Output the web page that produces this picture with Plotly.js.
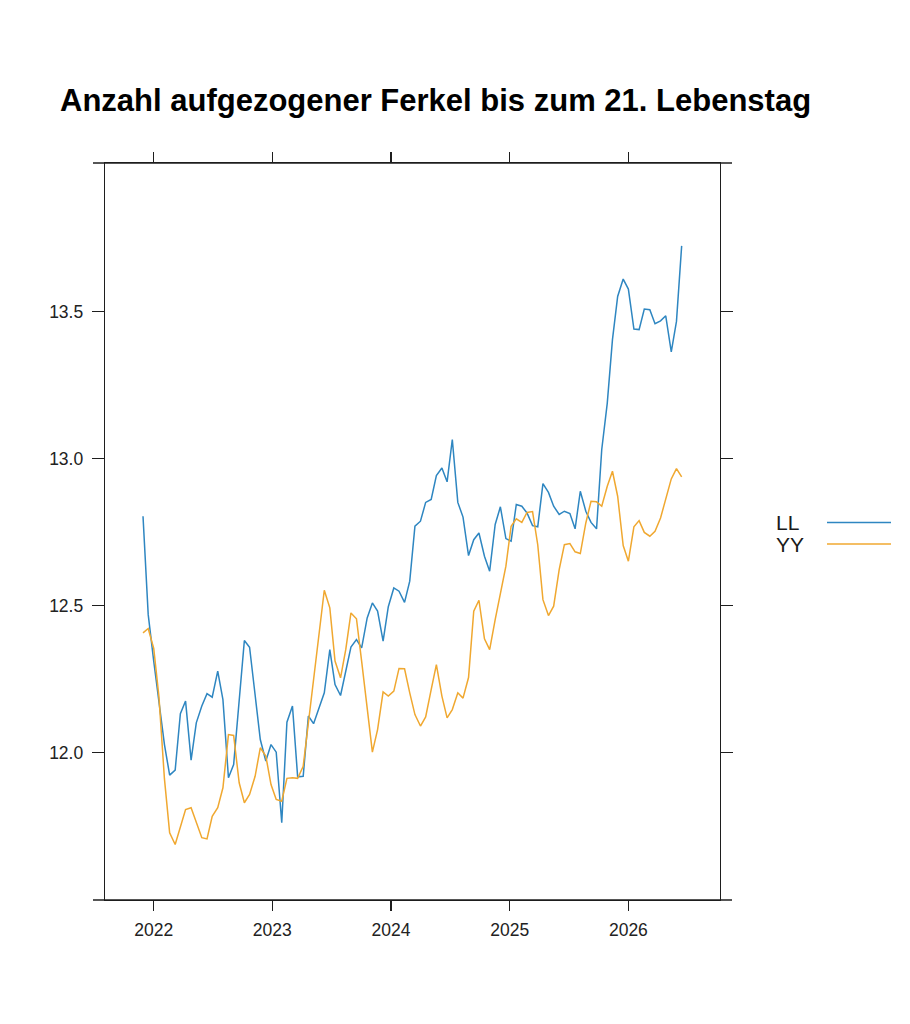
<!DOCTYPE html>
<html>
<head>
<meta charset="utf-8">
<script src="https://cdn.plot.ly/plotly-3.0.1.min.js"></script>
<style>
  html, body { margin: 0; padding: 0; background: #ffffff; }
  #chart { width: 910px; height: 1024px; }
</style>
</head>
<body>
<div id="chart"></div>
<script>
// ---- Data ----
const chartTitle = "Anzahl aufgezogener Ferkel bis zum 21. Lebenstag";
const seriesNames = ["LL", "YY"];
const seriesColors = ["#2e86c1", "#f0a830"];

const dates = [
  "2021-11-29","2021-12-15","2022-01-01","2022-01-17","2022-02-03","2022-02-19","2022-03-08","2022-03-24",
  "2022-04-09","2022-04-26","2022-05-12","2022-05-29","2022-06-14","2022-06-30","2022-07-17","2022-08-02",
  "2022-08-19","2022-09-04","2022-09-21","2022-10-07","2022-10-23","2022-11-09","2022-11-25","2022-12-12",
  "2022-12-28","2023-01-13","2023-01-30","2023-02-15","2023-03-04","2023-03-20","2023-04-06","2023-04-22",
  "2023-05-08","2023-05-25","2023-06-10","2023-06-27","2023-07-13","2023-07-30","2023-08-15","2023-08-31",
  "2023-09-17","2023-10-03","2023-10-20","2023-11-05","2023-11-21","2023-12-08","2023-12-24","2024-01-10",
  "2024-01-26","2024-02-12","2024-02-28","2024-03-15","2024-04-01","2024-04-17","2024-05-04","2024-05-20",
  "2024-06-06","2024-06-22","2024-07-08","2024-07-25","2024-08-10","2024-08-27","2024-09-12","2024-09-28",
  "2024-10-15","2024-10-31","2024-11-17","2024-12-03","2024-12-20","2025-01-05","2025-01-21","2025-02-07",
  "2025-02-23","2025-03-12","2025-03-28","2025-04-13","2025-04-30","2025-05-16","2025-06-02","2025-06-18",
  "2025-07-05","2025-07-21","2025-08-06","2025-08-23","2025-09-08","2025-09-25","2025-10-11","2025-10-28",
  "2025-11-13","2025-11-29","2025-12-16","2026-01-01","2026-01-18","2026-02-03","2026-02-19","2026-03-08",
  "2026-03-24","2026-04-10","2026-04-26","2026-05-13","2026-05-29","2026-06-14"
];

const valuesLL = [
  12.804,12.469,12.311,12.163,12.027,11.923,11.940,12.132,12.175,11.974,
  12.101,12.158,12.200,12.188,12.277,12.180,11.914,11.959,12.186,12.381,
  12.358,12.203,12.044,11.971,12.027,12.001,11.761,12.103,12.158,11.917,
  11.919,12.124,12.098,12.152,12.203,12.350,12.231,12.194,12.282,12.359,
  12.384,12.356,12.458,12.509,12.481,12.379,12.496,12.560,12.549,12.511,
  12.583,12.770,12.787,12.851,12.861,12.942,12.968,12.921,13.065,12.851,
  12.801,12.670,12.724,12.747,12.668,12.617,12.776,12.836,12.728,12.719,
  12.844,12.838,12.815,12.772,12.768,12.915,12.885,12.838,12.810,12.821,
  12.813,12.761,12.889,12.821,12.783,12.761,13.031,13.189,13.405,13.552,
  13.611,13.577,13.441,13.439,13.509,13.507,13.459,13.469,13.486,13.363,
  13.467,13.724
];

const valuesYY = [
  12.407,12.422,12.354,12.190,11.910,11.727,11.687,11.749,11.806,11.812,
  11.761,11.710,11.706,11.783,11.812,11.880,12.061,12.058,11.897,11.829,
  11.857,11.919,12.016,11.988,11.891,11.840,11.834,11.912,11.914,11.912,
  11.953,12.101,12.237,12.401,12.552,12.492,12.311,12.254,12.350,12.475,
  12.455,12.310,12.160,12.001,12.078,12.206,12.192,12.209,12.286,12.285,
  12.203,12.129,12.090,12.121,12.214,12.299,12.192,12.118,12.146,12.203,
  12.185,12.255,12.481,12.518,12.387,12.350,12.452,12.535,12.634,12.770,
  12.795,12.783,12.817,12.820,12.707,12.520,12.466,12.498,12.622,12.707,
  12.711,12.683,12.677,12.781,12.855,12.853,12.838,12.906,12.957,12.872,
  12.704,12.651,12.768,12.789,12.749,12.736,12.753,12.798,12.866,12.931,
  12.966,12.938
];

const yTickVals = [12.0, 12.5, 13.0, 13.5];
const yTickText = ["12.0", "12.5", "13.0", "13.5"];
const xTickVals = ["2022-01-01", "2023-01-01", "2024-01-01", "2025-01-01", "2026-01-01"];
const xTickText = ["2022", "2023", "2024", "2025", "2026"];

// ---- Layout constants ----
const W = 910, H = 1024;
const M = { l: 105, r: 190, t: 163, b: 124 };
const plotW = W - M.l - M.r, plotH = H - M.t - M.b;
const px2x = p => (p - M.l) / plotW;
const px2y = p => (H - M.b - p) / plotH;
const axisColor = "#1e1e1e";
const tickFont = { family: "Liberation Sans, Arial, sans-serif", size: 17.5, color: "#222222" };

const traces = [valuesLL, valuesYY].map((vals, i) => ({
  type: "scatter",
  mode: "lines",
  name: seriesNames[i],
  x: dates,
  y: vals,
  line: { color: seriesColors[i], width: 1.5 },
  showlegend: false,
  hoverinfo: "x+y"
}));

const ext = 12 / plotW;
const shapes = [
  { type: "line", xref: "paper", yref: "paper", x0: -ext, x1: 1 + ext, y0: 0, y1: 0, line: { color: axisColor, width: 1.3 } },
  { type: "line", xref: "paper", yref: "paper", x0: -ext, x1: 1 + ext, y0: 1, y1: 1, line: { color: axisColor, width: 1.3 } }
];
const annotations = [];
const legendY = [522.5, 544];
seriesNames.forEach((n, i) => {
  annotations.push({
    xref: "paper", yref: "paper", x: px2x(774), y: px2y(legendY[i]),
    xanchor: "left", yanchor: "middle", showarrow: false, text: n,
    font: { family: "Liberation Sans, Arial, sans-serif", size: 21, color: "#1a1a1a" }
  });
  shapes.push({
    type: "line", xref: "paper", yref: "paper",
    x0: px2x(827), x1: px2x(891), y0: px2y(legendY[i]), y1: px2y(legendY[i]),
    line: { color: seriesColors[i], width: 1.6 }
  });
});

const layout = {
  width: W, height: H,
  margin: M,
  paper_bgcolor: "#ffffff",
  plot_bgcolor: "#ffffff",
  showlegend: false,
  title: {
    text: "<b>" + chartTitle + "</b>",
    xref: "container", yref: "container",
    x: 60 / W, xanchor: "left",
    y: 1 - 100 / H, yanchor: "middle",
    font: { family: "Liberation Sans, Arial, sans-serif", size: 31, color: "#000000" }
  },
  xaxis: {
    type: "date",
    range: ["2021-08-04", "2026-10-10"],
    tickvals: xTickVals, ticktext: xTickText,
    ticks: "outside", ticklen: 10, tickwidth: 1.3, tickcolor: axisColor,
    showline: true, linecolor: axisColor, linewidth: 1.3, mirror: "ticks",
    showgrid: false, zeroline: false,
    tickfont: tickFont,
    ticklabelstandoff: 4
  },
  yaxis: {
    range: [11.498, 14.006],
    tickvals: yTickVals, ticktext: yTickText,
    ticks: "outside", ticklen: 12, tickwidth: 1.3, tickcolor: axisColor,
    showline: true, linecolor: axisColor, linewidth: 1.3, mirror: "ticks",
    showgrid: false, zeroline: false,
    tickfont: tickFont,
    ticklabelstandoff: 5
  },
  shapes: shapes,
  annotations: annotations
};

Plotly.newPlot("chart", traces, layout, { displayModeBar: false, staticPlot: true });
</script>
</body>
</html>
